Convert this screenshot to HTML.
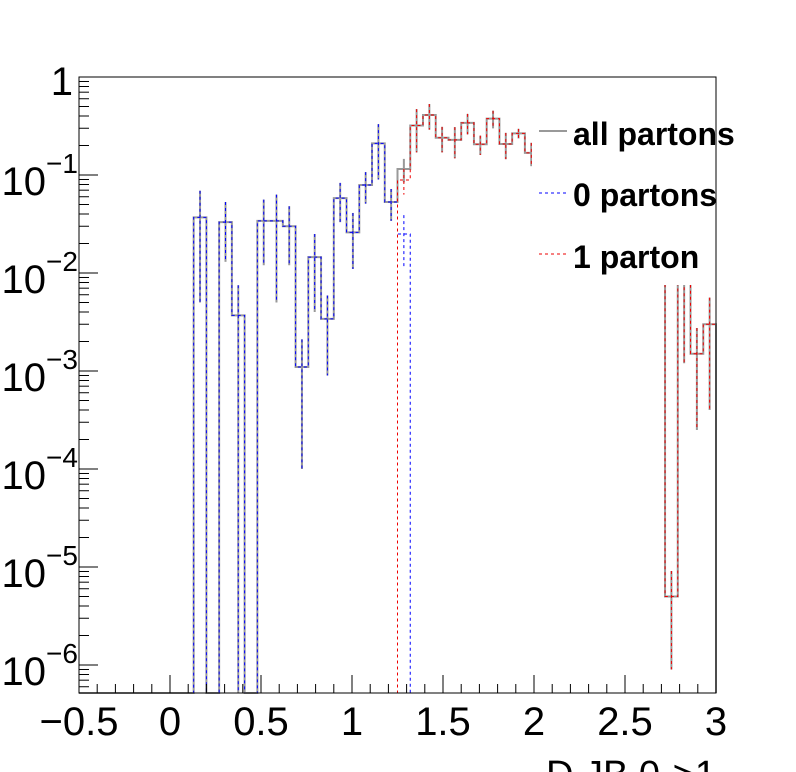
<!DOCTYPE html>
<html><head><meta charset="utf-8"><style>body{margin:0;background:#fff}svg{display:block}</style></head>
<body>
<svg id="chart" width="796" height="772" xmlns="http://www.w3.org/2000/svg" font-family="Liberation Sans, sans-serif">
<rect width="796" height="772" fill="#fff"/>
<g id="plot"></g>
<rect x="532" y="100" width="264" height="185" fill="#fff"/>
<rect x="79" y="77" width="637" height="616" fill="none" stroke="#000" stroke-width="1"/>
<g id="axes"></g>
<g>
<line x1="539" y1="131" x2="567" y2="131" stroke="#999" stroke-width="2"/>
<text x="573" y="145" font-size="32" font-weight="bold">all partons</text>
<line x1="539" y1="193" x2="567" y2="193" stroke="#00f" stroke-width="1" stroke-dasharray="3,3"/>
<text x="573" y="206" font-size="32" font-weight="bold">0 partons</text>
<line x1="539" y1="254" x2="567" y2="254" stroke="#e00" stroke-width="1" stroke-dasharray="3,3"/>
<text x="573" y="268" font-size="32" font-weight="bold">1 parton</text>
</g>
<text x="716" y="787" text-anchor="end" font-size="38">D JB 0-&gt;1</text>
</svg>
<script>
const allVals=[0,0,0,0,0,0,0,0,0,0.037,0,0.033,0.0037,0,0.034,0.034,0.030,0.0011,0.0145,0.0034,0.058,0.026,0.079,0.21,0.053,0.115,0.32,0.41,0.24,0.228,0.34,0.206,0.376,0.207,0.266,0.168,0.1,0.1,0.1,0.1,0.1,0.1,0.1,0.1,0.1,0.1,5e-6,0.02,0.0015,0.003];
const allErrs=[0,0,0,0,0,0,0,0,0,0.032,0,0.020,0.0038,0,0.022,0.029,0.018,0.001,0.0105,0.0025,0.025,0.015,0.028,0.12,0.019,0.031,0.15,0.12,0.07,0.08,0.08,0.046,0.077,0.062,0.03,0.045,0.01,0.01,0.01,0.01,0.01,0.01,0.01,0.01,0.01,0.01,4.1e-6,0.0188,0.00125,0.0026];
const zeroVals=[0,0,0,0,0,0,0,0,0,0.037,0,0.033,0.0037,0,0.034,0.034,0.030,0.0011,0.0145,0.0034,0.058,0.026,0.079,0.21,0.053,0.025,0,0,0,0,0,0,0,0,0,0,0,0,0,0,0,0,0,0,0,0,0,0,0,0];
const zeroErrs=[0,0,0,0,0,0,0,0,0,0.032,0,0.020,0.0038,0,0.022,0.029,0.018,0.001,0.0105,0.0025,0.025,0.015,0.028,0.12,0.019,0.014,0,0,0,0,0,0,0,0,0,0,0,0,0,0,0,0,0,0,0,0,0,0,0,0];
const oneVals=[0,0,0,0,0,0,0,0,0,0,0,0,0,0,0,0,0,0,0,0,0,0,0,0,0,0.089,0.32,0.41,0.24,0.228,0.34,0.206,0.376,0.207,0.266,0.168,0.1,0.1,0.1,0.1,0.1,0.1,0.1,0.1,0.1,0.1,5e-6,0.02,0.0015,0.003];
const oneErrs=[0,0,0,0,0,0,0,0,0,0,0,0,0,0,0,0,0,0,0,0,0,0,0,0,0,0.026,0.15,0.12,0.07,0.08,0.08,0.046,0.077,0.062,0.03,0.045,0.01,0.01,0.01,0.01,0.01,0.01,0.01,0.01,0.01,0.01,4.1e-6,0.0188,0.00125,0.0026];
const xTickLabels=["\u22120.5","0","0.5","1","1.5","2","2.5","3"];
const yDecades=[0,-1,-2,-3,-4,-5,-6];
const xMin=-0.5,xMax=3,nBins=50;
const NS="http://www.w3.org/2000/svg";
const L=79,R=716,T=77,B=693;
function X(v){return L+(v-xMin)/(xMax-xMin)*(R-L);}
function Y(v){if(v<=0)return B;const y=T-Math.log10(v)*98;return Math.min(B,Math.max(T,y));}
const bw=(xMax-xMin)/nBins;
const plot=document.getElementById('plot');
function mk(tag,attrs,parent){const e=document.createElementNS(NS,tag);for(const k in attrs)e.setAttribute(k,attrs[k]);parent.appendChild(e);return e;}
function drawSeries(vals,errs,color,width,dash,name){
  const g=mk('g',{},plot);
  
  
  let d='M'+X(xMin)+','+B;
  for(let i=0;i<nBins;i++){const x0=X(xMin+i*bw),x1=X(xMin+(i+1)*bw),y=Y(vals[i]);d+=' L'+x0+','+y+' L'+x1+','+y;}
  d+=' L'+X(xMax)+','+B;
  const p=mk('path',{d:d,fill:'none',stroke:color,'stroke-width':width},g);
  
  
  if(dash)p.setAttribute('stroke-dasharray',dash);
  for(let i=0;i<nBins;i++){
    if(vals[i]<=0)continue;
    const xc=X(xMin+(i+0.5)*bw);
    const lo=vals[i]-errs[i];
    const l=mk('line',{x1:xc,x2:xc,y1:Y(vals[i]+errs[i]),y2:lo>0?Y(lo):B,stroke:color,'stroke-width':width},g);
    
    
    if(dash)l.setAttribute('stroke-dasharray',dash);
  }
}
drawSeries(allVals,allErrs,'#999',2,null,'all-partons');
drawSeries(zeroVals,zeroErrs,'#00f',1,'3,3','zero-partons');
drawSeries(oneVals,oneErrs,'#e00',1,'3,3','one-parton');
const axes=document.getElementById('axes');
for(let k=0;k<=35;k++){
  const v=xMin+k*0.1,x=X(v),major=(k%5===0);
  const t=mk('line',{x1:x,x2:x,y1:B,y2:B-(major?18:9),stroke:'#000','stroke-width':1},axes);
  
  
}
xTickLabels.forEach((s,i)=>{
  const t=mk('text',{x:X(xMin+i*0.5),y:735,'text-anchor':'middle','font-size':40},axes);
  t.textContent=s;
  
  
});
yDecades.forEach(dcd=>{
  const y=Y(Math.pow(10,dcd));
  const t=mk('line',{x1:L,x2:L+19,y1:y,y2:y,stroke:'#000','stroke-width':1},axes);
  
  
  for(let m=2;m<=9;m++){
    const ym=Y(m*Math.pow(10,dcd));
    if(ym<=T||ym>=B)continue;
    const mt=mk('line',{x1:L,x2:L+10,y1:ym,y2:ym,stroke:'#000','stroke-width':1},axes);
    
    
  }
  for(let m=2;m<=9;m++){
    const ym=Y(m*Math.pow(10,dcd-1));
    if(dcd!==-6||ym>=B)continue;
    const mt=mk('line',{x1:L,x2:L+10,y1:ym,y2:ym,stroke:'#000','stroke-width':1},axes);
    
    
  }
  if(dcd===0){
    const t1=mk('text',{x:73,y:y+18,'text-anchor':'end','font-size':40},axes);
    t1.textContent='1';
    
    
  }else{
    const t1=mk('text',{x:46,y:y+20,'text-anchor':'end','font-size':40},axes);
    t1.textContent='10';
    
    
    const t2=mk('text',{x:46,y:y-2,'text-anchor':'start','font-size':28},axes);
    t2.textContent='\u2212'+(-dcd);
    
    
  }
});
</script>
</body></html>
